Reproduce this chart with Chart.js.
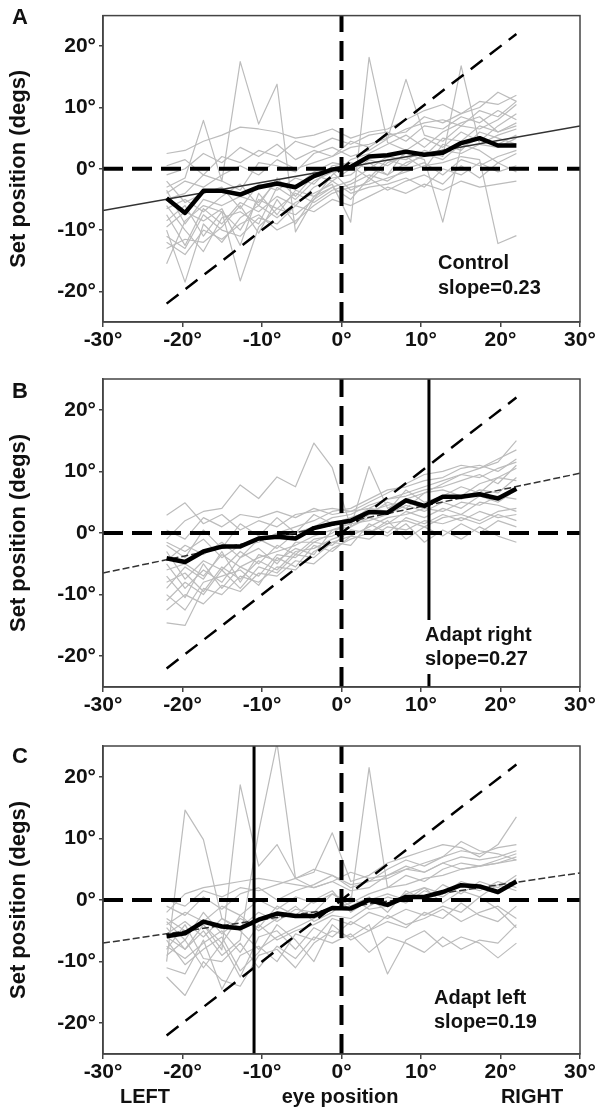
<!DOCTYPE html>
<html><head><meta charset="utf-8">
<script src="https://cdn.jsdelivr.net/npm/chart.js@4.4.1/dist/chart.umd.min.js"></script>
<style>
html,body{margin:0;padding:0;background:#fff;}
#wrap{position:relative;width:603px;height:1118px;overflow:hidden;background:#fff;}
.pane{position:absolute;left:0;width:603px;}
canvas{display:block;}
</style></head><body>
<div id="wrap">
<div class="pane" style="top:0;height:360px"><canvas id="cA" width="603" height="360"></canvas></div>
<div class="pane" style="top:360px;height:365px"><canvas id="cB" width="603" height="365"></canvas></div>
<div class="pane" style="top:725px;height:393px"><canvas id="cC" width="603" height="393"></canvas></div>
</div>
<script>
// ---------- data ----------
const eyePositions = [-22, -19.68, -17.37, -15.05, -12.74, -10.42, -8.11, -5.79, -3.47, -1.16,
                      1.16, 3.47, 5.79, 8.11, 10.42, 12.74, 15.05, 17.37, 19.68, 22];
const xTickValues = [-30, -20, -10, 0, 10, 20, 30];
const yTickValues = [-20, -10, 0, 10, 20];
const identityEnds = [-22, 22];
const axisXRange = [-30, 30];
const axisYRange = [-25, 25];

const meanA = [-4.8, -7.2, -3.6, -3.6, -4.2, -3.0, -2.4, -3.0, -1.2, -0.1, 0.3, 2.0, 2.2, 2.8, 2.3, 2.6, 4.2, 5.0, 3.8, 3.8];
const meanB = [-4.1, -4.7, -3.0, -2.2, -2.2, -0.9, -0.6, -0.9, 0.8, 1.5, 2.0, 3.4, 3.3, 5.3, 4.4, 5.9, 5.9, 6.3, 5.6, 7.2];
const meanC = [-5.9, -5.4, -3.5, -4.3, -4.6, -3.2, -2.2, -2.6, -2.6, -1.3, -1.4, 0.0, -0.8, 0.5, 0.5, 1.3, 2.4, 2.2, 1.3, 3.0];

const fitA = {slope: 0.23, intercept: 0.1};
const fitB = {slope: 0.27, intercept: 1.6};
const fitC = {slope: 0.19, intercept: -1.3};
const adaptB = 11;
const adaptC = -11;

const subjectsA = [
 [2.5, 3.0, 4.5, 5.5, 6.8, 6.5, 6.0, 5.0, 5.5, 6.5, 5.0, 6.0, 6.5, 8.0, 9.5, 10.5, 9.0, 11.0, 10.5, 12.0],
 [-3.0, -1.5, 7.9, -2.0, 17.5, 7.3, 13.8, -10.3, -5.0, -1.0, 1.5, 2.5, 4.0, 5.5, 3.5, 6.0, 7.5, 8.5, 6.0, 7.0],
 [-15.5, -8.5, -6.0, -7.0, -18.3, -9.5, -6.5, -7.5, -5.0, -3.0, -2.0, 0.0, -1.0, 1.0, 2.0, 3.0, 2.5, 4.0, 5.5, 6.5],
 [-10.0, -18.5, -9.0, -12.0, -8.0, -6.0, -8.0, -5.5, -4.0, -2.5, -8.7, 18.2, 4.3, 3.0, 5.0, 3.5, 6.0, 4.5, 7.0, 9.0],
 [-5.0, -4.0, -1.0, -2.0, -3.5, 1.0, 0.5, -0.5, 2.5, 3.5, 2.0, 3.0, 4.9, 14.6, 5.5, 4.5, 7.0, 6.5, 8.0, 10.5],
 [-7.5, -12.5, -6.5, -9.0, -5.5, -7.0, -4.5, -6.0, -3.0, -1.5, -1.0, 1.5, 0.5, 2.5, 1.5, -8.7, 3.5, 5.0, 4.0, 5.5],
 [-2.0, -5.5, -4.0, -3.0, -6.5, -2.5, -3.5, -1.5, -2.5, 0.5, 1.0, 0.0, 2.0, 1.5, 3.0, 2.0, 16.8, 4.0, 3.5, 5.0],
 [-12.0, -14.0, -10.0, -11.5, -9.0, -7.5, -10.0, -8.5, -6.0, -4.0, -3.0, -2.5, -1.5, -0.5, 0.5, 1.0, 2.0, 1.5, -12.2, -10.9],
 [-4.0, -2.0, -3.0, -1.0, 0.5, -1.0, 1.5, 0.0, 1.0, 2.0, 3.5, 4.0, 5.0, 6.5, 7.5, 8.0, 7.0, 9.5, 8.5, 11.0],
 [-8.5, -6.0, -11.0, -7.0, -10.0, -5.0, -6.5, -4.0, -5.5, -3.5, -2.5, -1.0, -2.0, 0.0, 1.0, -1.0, 1.5, 0.5, 2.0, 3.0],
 [-6.0, -10.0, -13.5, -8.0, -7.0, -9.0, -3.0, -5.0, -2.0, -0.5, -3.5, -2.0, 1.0, 2.0, 0.0, 4.0, 3.0, 6.0, 5.0, 4.0],
 [0.5, 1.5, -1.0, 2.0, 1.0, 3.0, 2.0, 4.5, 3.5, 5.0, 4.0, 5.5, 6.0, 4.5, 7.0, 6.5, 8.5, 7.5, 9.5, 8.0],
 [-9.5, -7.0, -8.5, -6.5, -12.5, -4.0, -7.5, -3.5, -4.5, -2.0, -4.0, -3.0, -2.5, -1.5, -3.0, 0.0, -1.0, 1.0, -0.5, 0.5],
 [-3.5, -9.0, -5.0, -6.0, -4.5, -5.5, -2.0, -3.0, -0.5, 1.0, 0.5, -1.5, 1.5, 0.5, 2.5, 1.5, 4.0, 3.0, 1.0, 2.5],
 [-11.0, -13.0, -7.5, -10.0, -11.0, -8.0, -9.0, -6.0, -7.0, -5.0, -6.0, -4.5, -3.0, -4.0, -2.5, -3.5, -2.0, -3.0, -2.5, -2.0],
 [-1.0, 0.0, 2.5, 1.0, 3.5, 2.0, 4.0, 1.5, 3.0, 2.0, 4.5, 3.5, 5.5, 6.0, 8.5, 7.5, 9.0, 10.0, 12.5, 11.0],
 [-6.5, -5.0, -7.0, -4.5, -2.5, -6.0, -1.5, -4.5, -1.0, -2.0, 0.0, 1.0, -1.0, 3.0, 2.0, 5.0, 4.5, 7.0, 6.0, 7.5],
 [-13.0, -11.5, -12.0, -9.5, -6.0, -10.5, -5.0, -9.0, -4.5, -3.0, -5.0, -1.5, -3.5, -2.0, -1.0, -2.5, 0.5, -1.5, 1.0, -0.5]
];
const subjectsB = [
 [-1.0, 2.0, 3.5, 4.0, 7.8, 5.6, 9.1, 7.5, 14.6, 10.6, 1.0, 10.8, 4.0, 5.5, 6.5, 8.0, 9.5, 10.5, 11.5, 15.0],
 [2.9, 4.9, 1.5, 3.0, 0.5, 2.0, 1.0, 3.0, 3.5, 4.0, 3.5, 5.0, 6.5, 8.0, 9.5, 10.0, 11.0, 10.5, 12.0, 13.5],
 [-14.6, -15.0, -9.0, -10.0, -7.0, -8.0, -5.5, -6.0, -3.0, -1.5, -0.5, 1.0, 2.5, 3.0, 4.0, 3.5, 5.0, 4.5, 6.0, 5.5],
 [-12.5, -10.0, -11.5, -8.5, -9.5, -6.5, -7.0, -4.5, -5.0, -2.5, -1.0, 0.0, 1.5, 2.0, 1.0, 2.5, 3.0, 2.0, 3.5, 4.0],
 [-1.5, -3.0, -1.0, -4.0, -2.0, -1.5, 0.0, 1.0, 2.0, 3.5, 4.0, 5.5, 7.0, 7.5, 8.5, 9.0, 10.5, 11.0, 10.0, 12.0],
 [-6.0, -5.0, -7.0, -3.5, -5.5, -4.0, -3.0, -2.0, -0.5, 0.5, 1.5, 2.0, 3.0, 4.5, 3.5, 5.0, 4.0, 6.0, 5.0, 7.0],
 [-3.0, -7.5, -4.5, -6.0, -3.0, -5.0, -2.0, -3.5, -1.0, -0.5, 1.0, 3.0, 5.0, 4.0, 6.5, 7.0, 6.0, 8.0, 9.0, 10.5],
 [-8.0, -6.5, -9.5, -5.5, -7.5, -4.5, -6.0, -3.0, -2.5, -1.0, 0.0, 0.5, -0.5, 1.5, -1.5, 0.5, -1.0, 1.0, -0.5, -1.5],
 [-4.5, -2.0, -3.5, -1.5, -4.0, -1.0, -2.5, 0.0, 1.0, 2.5, 3.0, 4.5, 5.5, 6.0, 7.0, 7.5, 8.5, 9.5, 8.0, 11.0],
 [-10.0, -12.5, -8.0, -7.0, -6.0, -8.5, -4.0, -5.5, -2.0, -3.0, -0.5, -1.0, 1.0, 0.5, 2.0, 1.5, 2.5, 1.5, 3.0, 2.0],
 [-5.0, -9.0, -6.0, -8.0, -4.0, -2.5, -5.0, -1.5, -1.5, 0.0, 2.0, 4.0, 3.5, 7.0, 5.0, 6.0, 7.5, 6.5, 9.0, 8.5],
 [-2.0, -4.0, 0.5, -2.5, 1.5, -0.5, 2.5, 0.0, 3.0, 1.5, 2.5, 3.5, 4.5, 5.0, 4.0, 6.0, 5.5, 7.0, 6.5, 9.0],
 [-7.0, -10.5, -5.0, -9.0, -5.5, -7.0, -3.5, -4.0, -1.5, -2.0, 0.5, 0.0, 2.0, -1.0, 1.0, -0.5, 1.5, 0.0, 2.0, 1.0],
 [-9.0, -5.5, -7.5, -3.0, -8.0, -3.5, -4.5, -2.5, -3.5, 0.5, 1.0, 2.5, 1.5, 3.5, 2.5, 4.0, 3.0, 5.0, 4.5, 3.5],
 [0.5, -1.0, 2.5, 1.0, 3.0, 2.5, 3.5, 2.5, 4.0, 3.0, 3.5, 4.0, 5.5, 6.5, 7.5, 8.5, 9.5, 9.0, 10.5, 11.5],
 [-11.0, -8.0, -10.0, -6.0, -9.0, -5.5, -6.5, -3.5, -4.0, -1.5, -2.0, 1.5, 0.0, 2.5, 1.5, 3.0, 2.0, 3.5, 2.5, 3.0]
];
const subjectsC = [
 [-10.0, 14.6, 9.8, -3.0, -5.0, -8.0, -6.0, -4.5, -3.0, -1.5, -0.5, 1.0, 2.0, 2.5, 3.5, 4.0, 5.0, 5.5, 6.0, 7.0],
 [-3.0, -5.0, -4.0, -8.1, 18.7, 5.5, 9.0, 3.5, 4.5, 10.9, 3.0, 4.0, 6.0, 7.0, 8.0, 9.0, 8.5, 7.0, 9.0, 13.5],
 [-6.0, -8.0, -5.0, -9.0, -6.5, 11.1, 25.5, 3.5, 5.0, 4.0, 2.5, 3.0, 3.5, 5.0, 4.5, 6.0, 7.0, 6.5, 7.0, 8.0],
 [-4.0, -2.0, -3.5, -1.0, -2.5, 0.0, -1.5, 0.5, -0.5, 1.0, -0.5, 21.5, 2.0, 4.0, 3.0, 5.0, 6.0, 5.5, 6.5, 7.5],
 [-12.5, -15.5, -10.0, -13.0, -14.0, -9.0, -8.0, -11.0, -7.0, -5.0, -6.0, -4.0, -12.0, -6.5, -5.0, -7.6, -6.0, -7.0, -9.4, -7.0],
 [-11.0, -12.0, -6.5, -14.5, -9.0, -7.5, -10.0, -5.5, -6.5, -3.0, -4.0, -2.0, -3.0, -1.5, -2.5, -1.0, -2.0, 0.5, -1.5, -4.5],
 [-2.0, 1.0, 2.0, 2.5, 3.0, 3.5, 3.0, 2.5, 2.0, 3.0, 1.5, 2.0, 4.0, 5.0, 6.0, 7.0, 9.5, 8.0, 7.5, 6.5],
 [-7.5, -9.5, -7.0, -5.0, -8.5, -4.0, -6.5, -5.0, -4.0, -2.5, -3.0, -1.0, 0.5, -0.5, 1.5, 0.5, 2.5, 1.5, 3.0, 2.0],
 [-5.5, -3.5, -6.0, -3.0, -4.5, -2.0, -3.5, -1.5, -2.0, 1.0, -1.0, 0.5, -2.0, 1.5, 0.0, 2.5, 1.0, 3.0, 2.0, 4.0],
 [-9.0, -6.5, -11.0, -7.0, -12.5, -6.0, -5.0, -8.0, -4.5, -6.0, -3.5, -5.0, -2.5, -4.0, -3.0, -1.5, -3.5, -2.0, -1.0, -3.0],
 [-1.0, -2.5, 0.5, -1.5, 1.0, 2.0, 0.0, 1.5, 2.5, 4.0, 2.0, 3.0, 5.0, 6.5, 5.5, 7.0, 8.0, 7.5, 8.5, 9.0],
 [-8.0, -4.0, -9.5, -10.0, -7.0, -11.0, -7.5, -9.5, -6.0, -7.0, -5.5, -8.5, -6.0, -7.0, -8.5, -6.0, -8.0, -6.5, -7.0, -4.0],
 [-3.5, -6.5, -2.0, -5.5, -3.0, -4.5, -1.0, -2.5, 0.0, 1.5, -2.0, 0.0, 1.0, 0.0, 2.0, 1.0, 3.0, 2.0, 1.0, 3.5],
 [-6.5, -10.5, -8.0, -6.0, -11.5, -8.5, -4.0, -6.5, -10.0, -4.0, -6.5, -5.0, -3.5, -4.5, -2.0, -3.0, -0.5, -2.5, -3.5, -1.0],
 [0.0, -1.0, 1.5, 0.5, 2.0, 1.5, 2.5, 3.5, 2.0, 3.0, 4.5, 3.5, 4.0, 5.5, 4.5, 6.0, 5.0, 5.5, 6.0, 6.5],
 [-4.5, -8.0, -4.0, -7.0, -2.5, -5.0, -3.0, -1.0, -3.5, -2.0, 0.5, -1.5, -1.0, 1.0, 2.0, -0.5, 1.5, 0.5, 2.5, 1.5]
];

const yAxisTitle = 'Set position (degs)';
const degree = '\u00B0';

// ---------- drawing ----------
const FONT = "'Liberation Sans', Arial, Helvetica, sans-serif";
Chart.defaults.font.family = FONT;
Chart.defaults.color = '#111';

const deco = {
  id: 'deco',
  afterDatasetsDraw(chart, args, o) {
    const {ctx, chartArea: a} = chart;
    ctx.save();
    ctx.font = 'bold ' + o.textSize + 'px ' + FONT;
    ctx.textBaseline = 'middle';
    ctx.textAlign = 'left';
    if (o.textBg) {
      let w = 0;
      o.lines.forEach(t => { w = Math.max(w, ctx.measureText(t).width); });
      ctx.fillStyle = '#fff';
      ctx.fillRect(o.textX - 4, o.textY - o.textSize * 0.75, w + 8, o.lineGap * (o.lines.length - 1) + o.textSize * 1.5);
    }
    ctx.fillStyle = '#111';
    o.lines.forEach((t, i) => ctx.fillText(t, o.textX, o.textY + i * o.lineGap));
    // frame
    ctx.strokeStyle = '#444';
    ctx.lineWidth = 1.5;
    ctx.strokeRect(a.left, a.top, a.right - a.left, a.bottom - a.top);
    ctx.restore();
  },
  afterDraw(chart, args, o) {
    const {ctx} = chart;
    ctx.save();
    ctx.fillStyle = '#111';
    ctx.font = 'bold 22px ' + FONT;
    ctx.textBaseline = 'middle';
    ctx.textAlign = 'left';
    ctx.fillText(o.letter, 12, o.letterY);
    if (o.footer) {
      ctx.font = 'bold 20px ' + FONT;
      ctx.textAlign = 'center';
      o.footer.forEach(f => ctx.fillText(f.text, f.x, o.footerY));
    }
    ctx.restore();
  }
};

function pts(xs, ys) { return xs.map((x, i) => ({x: x, y: ys[i]})); }

function buildDatasets(subjects, mean, fit, adaptX, dashedFit) {
  const ds = [];
  subjects.forEach(v => ds.push({data: pts(eyePositions, v), borderColor: '#bcbcbc', borderWidth: 1.2, order: 10}));
  ds.push({data: pts(axisXRange, [0, 0]), borderColor: '#000', borderWidth: 4, borderDash: [20, 9], order: 5});
  ds.push({data: pts([0, 0], axisYRange), borderColor: '#000', borderWidth: 4, borderDash: [20, 9], order: 5});
  ds.push({data: pts(identityEnds, identityEnds), borderColor: '#000', borderWidth: 2.5, borderDash: [15, 9], order: 4});
  ds.push({data: pts(axisXRange, axisXRange.map(x => fit.slope * x + fit.intercept)), borderColor: '#333',
           borderWidth: 1.5, borderDash: dashedFit ? [7, 3] : [], order: 3});
  if (adaptX !== null) {
    ds.push({data: pts([adaptX, adaptX], axisYRange), borderColor: '#000', borderWidth: 3, order: 2});
  }
  ds.push({data: pts(eyePositions, mean), borderColor: '#000', borderWidth: 4.5, order: 0});
  return ds;
}

function makeChart(id, cfg) {
  return new Chart(document.getElementById(id), {
    type: 'scatter',
    data: {datasets: buildDatasets(cfg.subjects, cfg.mean, cfg.fit, cfg.adaptX, cfg.dashedFit)},
    options: {
      responsive: false,
      animation: false,
      events: [],
      showLine: true,
      elements: {point: {radius: 0}, line: {tension: 0, borderCapStyle: 'butt', borderJoinStyle: 'round'}},
      layout: {padding: {top: cfg.top, right: 23, left: 0, bottom: 0}},
      plugins: {
        legend: {display: false}, tooltip: {enabled: false},
        deco: cfg.deco
      },
      scales: {
        x: {
          type: 'linear', min: axisXRange[0], max: axisXRange[1],
          afterBuildTicks: s => { s.ticks = xTickValues.map(v => ({value: v})); },
          afterFit: s => { s.height = cfg.xHeight; },
          grid: {display: true, drawOnChartArea: false, drawTicks: true, tickLength: 5, color: '#444', lineWidth: 1.5},
          border: {display: true, color: '#444', width: 1.5},
          ticks: {font: {size: 21, weight: 'bold'}, color: '#111', padding: 1, maxRotation: 0, autoSkip: false,
                  callback: v => v + degree}
        },
        y: {
          type: 'linear', min: axisYRange[0], max: axisYRange[1],
          afterBuildTicks: s => { s.ticks = yTickValues.map(v => ({value: v})); },
          afterFit: s => { s.width = 103; },
          grid: {display: true, drawOnChartArea: false, drawTicks: true, tickLength: 4, color: '#444', lineWidth: 1.5},
          border: {display: true, color: '#444', width: 1.5},
          ticks: {font: {size: 21, weight: 'bold'}, color: '#111', padding: 3, autoSkip: false,
                  callback: v => v + degree},
          title: {display: true, text: yAxisTitle, font: {size: 22, weight: 'bold'}, color: '#111', padding: {top: 6, bottom: 0}}
        }
      }
    },
    plugins: [deco]
  });
}

makeChart('cA', {subjects: subjectsA, mean: meanA, fit: fitA, adaptX: null, dashedFit: false,
  top: 13, xHeight: 38,
  deco: {letter: 'A', letterY: 18, lines: ['Control', 'slope=0.23'], textX: 438, textY: 263, lineGap: 25, textSize: 20, textBg: false}});
makeChart('cB', {subjects: subjectsB, mean: meanB, fit: fitB, adaptX: adaptB, dashedFit: true,
  top: 19, xHeight: 38,
  deco: {letter: 'B', letterY: 32, lines: ['Adapt right', 'slope=0.27'], textX: 425, textY: 275, lineGap: 24, textSize: 20, textBg: true}});
makeChart('cC', {subjects: subjectsC, mean: meanC, fit: fitC, adaptX: adaptC, dashedFit: true,
  top: 21, xHeight: 64,
  deco: {letter: 'C', letterY: 32, lines: ['Adapt left', 'slope=0.19'], textX: 434, textY: 273, lineGap: 24, textSize: 20, textBg: false,
         footerY: 372, footer: [{text: 'LEFT', x: 145}, {text: 'eye position', x: 340}, {text: 'RIGHT', x: 532}]}});
</script>
</body></html>
